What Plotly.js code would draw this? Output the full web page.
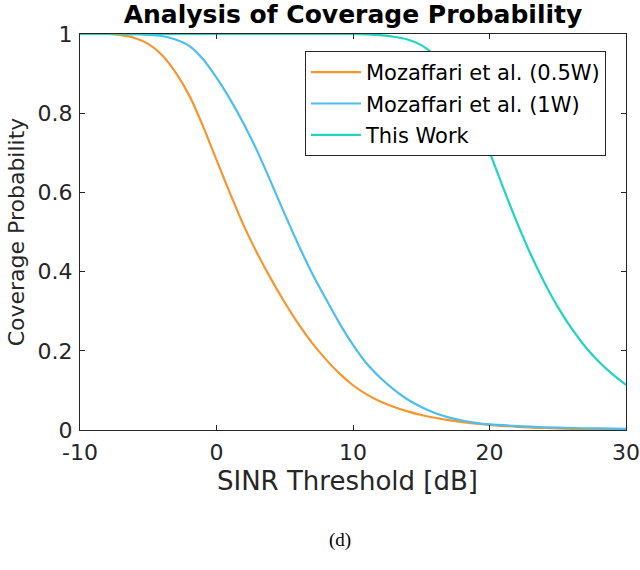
<!DOCTYPE html>
<html>
<head>
<meta charset="utf-8">
<script src="https://cdn.plot.ly/plotly-3.0.1.min.js"></script>
<style>html,body{margin:0;padding:0;background:#fff;}#chart{width:640px;height:570px;}</style>
</head>
<body>
<div id="chart"></div>
<script>
var seriesNames = ["Mozaffari et al. (0.5W)", "Mozaffari et al. (1W)", "This Work"];

var xHalfW = [-10, -9, -8, -7, -6, -5, -4, -3, -2, -1, 0, 1, 2, 3, 4, 5, 6, 7, 8, 9, 10, 11, 12, 13, 14, 15, 16, 17, 18, 19, 20, 22, 24, 26, 28, 30];
var yHalfW = [1, 1, 1, 0.997, 0.990, 0.975, 0.947, 0.903, 0.845, 0.768, 0.682, 0.597, 0.516, 0.445, 0.381, 0.322, 0.268, 0.220, 0.179, 0.143, 0.113, 0.090, 0.072, 0.058, 0.047, 0.038, 0.031, 0.025, 0.020, 0.016, 0.013, 0.008, 0.005, 0.003, 0.002, 0.001];

var xOneW = [-10, -9, -8, -7, -6, -5, -4, -3, -2, -1, 0, 1, 2, 3, 4, 5, 6, 7, 8, 9, 10, 11, 12, 13, 14, 15, 16, 17, 18, 19, 20, 22, 24, 26, 28, 30];
var yOneW = [1, 1, 1, 1, 0.999, 0.998, 0.995, 0.986, 0.970, 0.937, 0.890, 0.835, 0.773, 0.703, 0.625, 0.545, 0.468, 0.396, 0.332, 0.270, 0.215, 0.168, 0.132, 0.102, 0.077, 0.058, 0.043, 0.032, 0.024, 0.018, 0.014, 0.010, 0.007, 0.005, 0.004, 0.003];

var xThisWork = [-10, 0, 10, 11, 12, 13, 14, 15, 16, 17, 18, 19, 20, 21, 22, 23, 24, 25, 26, 27, 28, 29, 30];
var yThisWork = [1, 1, 1, 0.999, 0.997, 0.993, 0.986, 0.972, 0.946, 0.905, 0.850, 0.782, 0.702, 0.612, 0.525, 0.445, 0.374, 0.311, 0.257, 0.211, 0.173, 0.141, 0.114];

var xTickVals = [-10, 0, 10, 20, 30];
var xTickText = ["-10", "0", "10", "20", "30"];
var yTickVals = [0, 0.2, 0.4, 0.6, 0.8, 1];
var yTickText = ["0", "0.2", "0.4", "0.6", "0.8", "1"];

var xTitle = "SINR Threshold [dB]";
var yTitle = "Coverage Probability";
var caption = "(d)";

var colors = ["#F7952F", "#4DBEEE", "#1FD5BF"];
var sans = "DejaVu Sans, Liberation Sans, Arial, sans-serif";

function mk(x, y, i) {
  return {
    x: x, y: y, name: seriesNames[i], type: "scatter", mode: "lines",
    legendgroup: "g" + i,
    line: {color: colors[i], width: 2.2, shape: "spline", smoothing: 0.8}
  };
}
var data = [mk(xHalfW, yHalfW, 0), mk(xOneW, yOneW, 1), mk(xThisWork, yThisWork, 2)];

var axisCommon = {
  showgrid: false, zeroline: false, showline: true, linecolor: "#262626", linewidth: 1,
  mirror: "ticks", ticks: "inside", ticklen: 5, tickcolor: "#262626", tickwidth: 1,
  ticklabeloverflow: "allow",
  tickfont: {family: sans, size: 22, color: "#262626"}
};

var layout = {
  width: 640, height: 570,
  margin: {l: 80, r: 14, t: 34, b: 140},
  paper_bgcolor: "#fff", plot_bgcolor: "#fff",
  showlegend: true,
  title: {text: "<b>Analysis of Coverage Probability</b>", x: 0.5, xanchor: "center", xref: "paper", y: 0.975, yanchor: "middle", yref: "container",
    font: {family: sans, size: 25, color: "#000"}},
  xaxis: Object.assign({}, axisCommon, {
    range: [-10, 30], tickmode: "array", tickvals: xTickVals, ticktext: xTickText,
    ticklabelstandoff: 3
  }),
  yaxis: Object.assign({}, axisCommon, {
    range: [0, 1], tickmode: "array", tickvals: yTickVals, ticktext: yTickText,
    ticklabelstandoff: 2,
    title: {text: yTitle, standoff: 6, font: {family: sans, size: 22, color: "#262626"}}
  }),
  legend: {
    x: 0.412, y: 0.957, xanchor: "left", yanchor: "top",
    bgcolor: "#fff", bordercolor: "#262626", borderwidth: 1,
    traceorder: "grouped", tracegroupgap: 1, itemwidth: 50,
    font: {family: sans, size: 21, color: "#000"}
  },
  annotations: [{
    text: xTitle, xref: "paper", yref: "paper", x: 0.49, y: -0.128, xanchor: "center", yanchor: "middle",
    showarrow: false, font: {family: sans, size: 26, color: "#262626"}
  }, {
    text: caption, xref: "paper", yref: "paper", x: 0.476, y: -0.278, xanchor: "center", yanchor: "middle",
    showarrow: false, font: {family: "Liberation Serif, DejaVu Serif, serif", size: 19, color: "#000"}
  }]
};

Plotly.newPlot("chart", data, layout, {displayModeBar: false, staticPlot: true});
</script>
</body>
</html>
